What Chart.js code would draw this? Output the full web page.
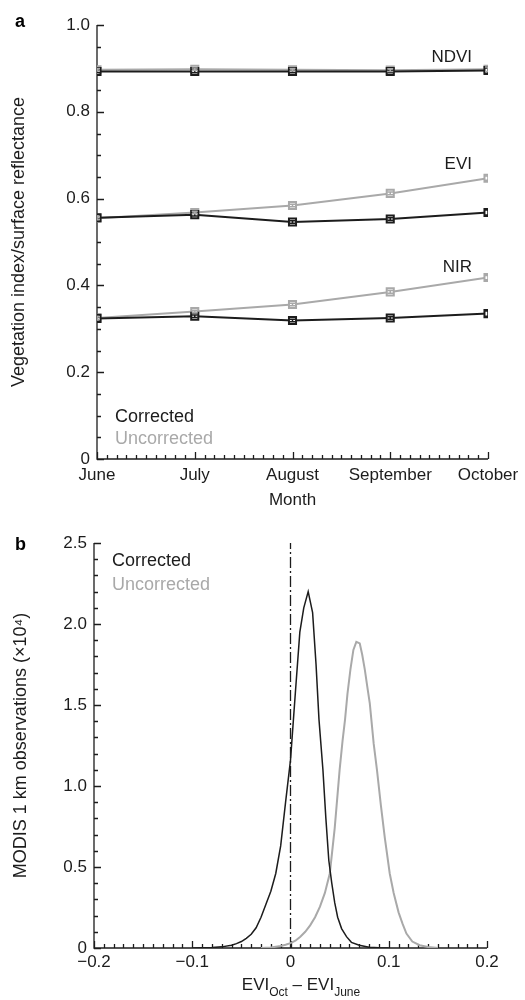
<!DOCTYPE html>
<html>
<head>
<meta charset="utf-8">
<script src="https://cdn.jsdelivr.net/npm/chart.js@4.4.0/dist/chart.umd.min.js"></script>
<style>
  body { margin: 0; background: #fff; }
  .panel { position: absolute; left: 0; }
</style>
</head>
<body>
<canvas id="chartA" class="panel" style="top:0" width="525" height="515"></canvas>
<canvas id="chartB" class="panel" style="top:500px" width="525" height="500"></canvas>
<script>
// panel a: monthly means
const months = ['June', 'July', 'August', 'September', 'October'];
const ndviCorrected   = [0.893, 0.893, 0.893, 0.893, 0.895];
const ndviUncorrected = [0.897, 0.898, 0.897, 0.896, 0.898];
const eviCorrected    = [0.556, 0.563, 0.546, 0.553, 0.568];
const eviUncorrected  = [0.555, 0.568, 0.584, 0.612, 0.647];
const nirCorrected    = [0.324, 0.329, 0.319, 0.325, 0.335];
const nirUncorrected  = [0.325, 0.340, 0.356, 0.385, 0.418];
const errCorrected    = [0.003, 0.003, 0.003, 0.003, 0.006];
const errUncorrected  = [0.003, 0.003, 0.003, 0.003, 0.005];
const seriesNames = ['NDVI', 'EVI', 'NIR'];

// panel b: histogram of EVI(Oct) - EVI(June), x10^4 observations
const corrX = [-0.10, -0.09, -0.08, -0.07, -0.06, -0.055, -0.05, -0.045, -0.04, -0.035, -0.03, -0.025, -0.02, -0.015, -0.01, -0.005,
  0, 0.005, 0.0095, 0.0135, 0.018, 0.0225, 0.026, 0.029, 0.033, 0.036, 0.039, 0.042, 0.045, 0.048, 0.052, 0.057, 0.062, 0.07, 0.08, 0.09, 0.10];
const corrY = [0, 0.002, 0.003, 0.007, 0.017, 0.027, 0.04, 0.06, 0.085, 0.125, 0.19, 0.27, 0.35, 0.46, 0.63, 0.9,
  1.16, 1.58, 1.95, 2.10, 2.20, 2.07, 1.75, 1.41, 1.10, 0.80, 0.54, 0.40, 0.28, 0.19, 0.12, 0.07, 0.035, 0.017, 0.005, 0.001, 0];
const uncorrX = [-0.03, -0.02, -0.01, -0.005, 0, 0.005, 0.01, 0.015, 0.02, 0.025, 0.03, 0.035, 0.04, 0.045, 0.05, 0.053, 0.0555, 0.058,
  0.061, 0.064, 0.067, 0.0705, 0.073, 0.0756, 0.078, 0.0807, 0.0847, 0.088, 0.092, 0.096, 0.101, 0.105, 0.11, 0.114, 0.118, 0.124, 0.1315, 0.14, 0.15];
const uncorrY = [0, 0.003, 0.012, 0.02, 0.03, 0.045, 0.07, 0.1, 0.14, 0.19, 0.255, 0.34, 0.46, 0.74, 1.10, 1.28, 1.41, 1.57,
  1.72, 1.84, 1.89, 1.88, 1.81, 1.72, 1.62, 1.51, 1.26, 1.10, 0.88, 0.68, 0.46, 0.34, 0.22, 0.15, 0.089, 0.04, 0.017, 0.006, 0];
const zeroChange = 0;

const INK = '#1c1c1c';
const GREY = '#a9a9a9';
const FONT = "'Liberation Sans', Arial, sans-serif";
Chart.defaults.font.family = FONT;
Chart.defaults.color = INK;

// axis lines + inward major/minor ticks, drawn from the scales
function frame(xs) {
  return {
    id: 'frame',
    beforeDatasetsDraw(chart) {
      const {ctx, chartArea: a, scales: {x, y}} = chart;
      ctx.save();
      ctx.strokeStyle = INK;
      ctx.lineWidth = 1.3;
      ctx.beginPath();
      ctx.moveTo(a.left, y.getPixelForValue(y.max));
      ctx.lineTo(a.left, a.bottom);
      ctx.lineTo(x.getPixelForValue(xs.max), a.bottom);
      const yn = Math.round((y.max - y.min) / xs.yMinor);
      for (let i = 0; i <= yn; i++) {
        const v = y.min + i * xs.yMinor;
        const major = Math.abs(v / xs.yMajor - Math.round(v / xs.yMajor)) < 1e-6;
        const p = Math.round(y.getPixelForValue(v)) + 0.5;
        ctx.moveTo(a.left, p);
        ctx.lineTo(a.left + (major ? 7 : 4), p);
      }
      const xn = Math.round((xs.max - xs.min) / xs.xMinor);
      for (let i = 0; i <= xn; i++) {
        const v = xs.min + i * xs.xMinor;
        const major = Math.abs((v - xs.min) / xs.xMajor - Math.round((v - xs.min) / xs.xMajor)) < 1e-6;
        const p = Math.round(x.getPixelForValue(v)) + 0.5;
        ctx.moveTo(p, a.bottom);
        ctx.lineTo(p, a.bottom - (major ? 7 : 4));
      }
      ctx.stroke();
      ctx.restore();
    }
  };
}

function notes(draw) {
  return { id: 'notes', afterDraw(chart) { const c = chart.ctx; c.save(); draw(chart, c); c.restore(); } };
}

function lineSet(values, colour, errors) {
  return {
    data: values, errors,
    borderColor: colour, borderWidth: 2,
    pointStyle: 'rect', pointRadius: 5,
    pointBackgroundColor: '#fff', pointBorderColor: colour, pointBorderWidth: 2,
    tension: 0, clip: 0
  };
}

const errorBars = {
  id: 'errorBars',
  afterDatasetsDraw(chart) {
    const {ctx, chartArea: a} = chart;
    ctx.save();
    ctx.beginPath();
    ctx.rect(a.left, a.top, a.right - a.left, a.bottom - a.top);
    ctx.clip();
    chart.data.datasets.forEach((ds, i) => {
      const meta = chart.getDatasetMeta(i);
      ctx.strokeStyle = ds.borderColor;
      ctx.lineWidth = 1.5;
      meta.data.forEach((pt, j) => {
        const e = ds.errors[j];
        const y1 = chart.scales.y.getPixelForValue(ds.data[j] - e);
        const y2 = chart.scales.y.getPixelForValue(ds.data[j] + e);
        ctx.beginPath();
        ctx.moveTo(pt.x, y1); ctx.lineTo(pt.x, y2);
        ctx.moveTo(pt.x - 3, y1); ctx.lineTo(pt.x + 3, y1);
        ctx.moveTo(pt.x - 3, y2); ctx.lineTo(pt.x + 3, y2);
        ctx.stroke();
      });
    });
    ctx.restore();
  }
};

new Chart(document.getElementById('chartA'), {
  type: 'line',
  data: {
    labels: months,
    datasets: [
      lineSet(ndviCorrected, INK, errCorrected),
      lineSet(eviCorrected, INK, errCorrected),
      lineSet(nirCorrected, INK, errCorrected),
      lineSet(ndviUncorrected, GREY, errUncorrected),
      lineSet(eviUncorrected, GREY, errUncorrected),
      lineSet(nirUncorrected, GREY, errUncorrected)
    ]
  },
  options: {
    responsive: false, animation: false, devicePixelRatio: 1,
    layout: { padding: { top: 25, right: 37, left: 0, bottom: 0 } },
    plugins: { legend: { display: false }, tooltip: { enabled: false } },
    scales: {
      x: {
        type: 'category', offset: false,
        grid: { display: false, drawTicks: false }, border: { display: false },
        ticks: { padding: 6, font: { size: 17 }, color: INK, maxRotation: 0, autoSkip: false },
        title: { display: true, text: 'Month', font: { size: 17 }, color: INK, padding: { top: 0, bottom: 4 } },
        afterFit(s) { s.height = 56; }
      },
      y: {
        min: 0, max: 1,
        grid: { display: false, drawTicks: false }, border: { display: false },
        ticks: { stepSize: 0.2, padding: 7, font: { size: 17 }, color: INK,
          callback: v => Math.abs(v) < 1e-9 ? '0' : v.toFixed(1) },
        title: { display: true, text: 'Vegetation index/surface reflectance', font: { size: 18 }, color: INK,
          padding: { top: 8, bottom: 0 } },
        afterFit(s) { s.width = 97; }
      }
    }
  },
  plugins: [
    frame({ min: 0, max: months.length - 1, xMinor: 0.1, xMajor: 1, yMinor: 0.05, yMajor: 0.2 }),
    errorBars,
    notes((chart, c) => {
      const {chartArea: a, scales: {x, y}} = chart;
      c.font = 'bold 18px ' + FONT;
      c.fillStyle = '#000';
      c.fillText('a', 15, 27);
      c.font = '17px ' + FONT;
      c.fillStyle = INK;
      c.textAlign = 'right';
      const right = x.getPixelForValue(months.length - 1) - 16;
      [0.915, 0.669, 0.431].forEach((lv, i) => c.fillText(seriesNames[i], right, y.getPixelForValue(lv)));
      c.textAlign = 'left';
      c.font = '18px ' + FONT;
      c.fillText('Corrected', a.left + 18, a.bottom - 37);
      c.fillStyle = GREY;
      c.fillText('Uncorrected', a.left + 18, a.bottom - 15);
    })
  ]
});

const minus = s => s.replace('-', '\u2212');

new Chart(document.getElementById('chartB'), {
  type: 'line',
  data: {
    datasets: [
      { data: corrX.map((v, i) => ({ x: v, y: corrY[i] })), borderColor: INK, borderWidth: 1.5, pointRadius: 0, tension: 0 },
      { data: uncorrX.map((v, i) => ({ x: v, y: uncorrY[i] })), borderColor: GREY, borderWidth: 2, pointRadius: 0, tension: 0 },
      { data: [{ x: zeroChange, y: 0 }, { x: zeroChange, y: 2.5 }], borderColor: INK, borderWidth: 1.3,
        borderDash: [11, 3, 2, 3], pointRadius: 0 }
    ]
  },
  options: {
    responsive: false, animation: false, devicePixelRatio: 1,
    layout: { padding: { top: 43, right: 38, left: 0, bottom: 0 } },
    plugins: { legend: { display: false }, tooltip: { enabled: false } },
    scales: {
      x: {
        type: 'linear', min: -0.2, max: 0.2,
        grid: { display: false, drawTicks: false }, border: { display: false },
        ticks: { stepSize: 0.1, padding: 4, font: { size: 17 }, color: INK, maxRotation: 0,
          callback: v => Math.abs(v) < 1e-9 ? '0' : minus(v.toFixed(1)) },
        afterFit(s) { s.height = 52; }
      },
      y: {
        min: 0, max: 2.5,
        grid: { display: false, drawTicks: false }, border: { display: false },
        ticks: { stepSize: 0.5, padding: 7, font: { size: 17 }, color: INK,
          callback: v => Math.abs(v) < 1e-9 ? '0' : v.toFixed(1) },
        title: { display: true, text: 'MODIS 1 km observations (\u00d710\u2074)', font: { size: 18 }, color: INK,
          padding: { top: 10, bottom: 0 } },
        afterFit(s) { s.width = 94; }
      }
    }
  },
  plugins: [
    frame({ min: -0.2, max: 0.2, xMinor: 0.01, xMajor: 0.1, yMinor: 0.1, yMajor: 0.5 }),
    notes((chart, c) => {
      const {chartArea: a} = chart;
      c.font = 'bold 18px ' + FONT;
      c.fillStyle = '#000';
      c.fillText('b', 15, 50);
      c.font = '18px ' + FONT;
      c.fillStyle = INK;
      c.fillText('Corrected', a.left + 18, a.top + 23);
      c.fillStyle = GREY;
      c.fillText('Uncorrected', a.left + 18, a.top + 47);
      // x title with subscripts
      const parts = [['EVI', 17, 0], ['Oct', 12, 6], [' \u2013 EVI', 17, 0], ['June', 12, 6]];
      let w = 0;
      parts.forEach(p => { c.font = p[1] + 'px ' + FONT; w += c.measureText(p[0]).width; });
      let px = 301 - w / 2;
      c.fillStyle = INK;
      parts.forEach(p => {
        c.font = p[1] + 'px ' + FONT;
        c.fillText(p[0], px, 490 + p[2]);
        px += c.measureText(p[0]).width;
      });
    })
  ]
});
</script>
</body>
</html>
